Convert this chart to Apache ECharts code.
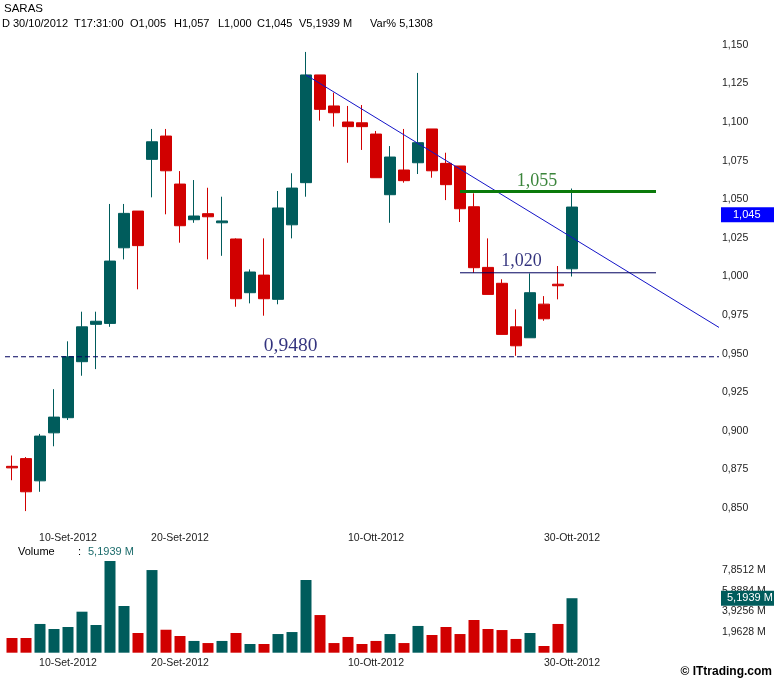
<!DOCTYPE html>
<html><head><meta charset="utf-8">
<script src="https://cdn.jsdelivr.net/npm/echarts@6/dist/echarts.min.js"></script>
<style>html,body{margin:0;padding:0;background:#fff}#c{width:774px;height:681px}</style>
</head><body><div id="c"></div>
<script>
// ---- data ----
const symbolName = 'SARAS';
const lastDate = '30/10/2012';
const lastTime = '17:31:00';
const dates = ['04-Set-2012','05-Set-2012','06-Set-2012','07-Set-2012','10-Set-2012','11-Set-2012','12-Set-2012','13-Set-2012','14-Set-2012',
  '17-Set-2012','18-Set-2012','19-Set-2012','20-Set-2012','21-Set-2012','24-Set-2012','25-Set-2012','26-Set-2012','27-Set-2012','28-Set-2012',
  '01-Ott-2012','02-Ott-2012','03-Ott-2012','04-Ott-2012','05-Ott-2012','08-Ott-2012','09-Ott-2012','10-Ott-2012','11-Ott-2012','12-Ott-2012',
  '15-Ott-2012','16-Ott-2012','17-Ott-2012','18-Ott-2012','19-Ott-2012','22-Ott-2012','23-Ott-2012','24-Ott-2012','25-Ott-2012','26-Ott-2012',
  '29-Ott-2012','30-Ott-2012'];
const opens  = [0.877,0.882,0.8676,0.8987,0.9085,0.9448,0.969,0.9696,1.0186,1.0424,1.0759,1.091,1.0599,1.0368,1.0407,1.0348,1.0243,0.9895,1.0009,0.9852,1.0335,1.0608,1.1306,1.1105,1.1001,1.0996,1.0923,1.053,1.069,1.0737,1.0956,1.0733,1.0716,1.0452,1.0059,0.9956,0.9674,0.9603,0.9821,0.995,1.005];
const closes = [0.876,0.8605,0.8966,0.9089,0.948,0.9674,0.971,1.010,1.0409,1.020,1.0873,1.0685,1.0329,1.0392,1.0387,1.036,0.9856,1.0029,0.9856,1.0444,1.0573,1.1306,1.1083,1.1061,1.0971,1.0971,1.064,1.0774,1.0621,1.0867,1.0685,1.0595,1.0439,1.0057,0.9884,0.9625,0.9551,0.9895,0.9726,0.994,1.045];
const lows   = [0.868,0.848,0.8605,0.890,0.907,0.9357,0.940,0.9674,1.0111,0.9917,1.0513,1.0403,1.0219,1.0348,1.0111,1.0134,0.9804,0.9826,0.9746,0.982,1.0247,1.0517,1.101,1.0971,1.0737,1.082,1.064,1.0348,1.0608,1.0664,1.064,1.0495,1.0353,1.0024,0.9884,0.9625,0.9486,0.9603,0.9713,0.9852,1.000];
const highs  = [0.884,0.883,0.898,0.927,0.958,0.9772,0.9772,1.047,1.047,1.0424,1.0956,1.0956,1.0683,1.0625,1.0575,1.0517,1.0247,1.0046,1.0247,1.0554,1.0669,1.1455,1.1306,1.1191,1.1105,1.1111,1.0943,1.0845,1.0956,1.1319,1.0956,1.0802,1.0716,1.0539,1.0247,0.9982,0.9787,1.002,0.9873,1.0068,1.057];
const volumes = [1.40,1.40,2.74,2.26,2.45,3.91,2.64,8.74,4.45,1.88,7.88,2.19,1.59,1.12,0.92,1.12,1.88,0.83,0.83,1.78,1.97,6.93,3.59,0.92,1.50,0.83,1.12,1.78,0.92,2.55,1.69,2.45,1.78,3.12,2.26,2.16,1.31,1.88,0.64,2.74,5.1939];
const dateTickLabels = ['10-Set-2012','20-Set-2012','10-Ott-2012','30-Ott-2012'];
const emptySlots = 10;
// price axis
const priceMin = 0.85, priceMax = 1.15, priceStep = 0.025;
// volume axis (millions)
const volMin = 0, volMax = 8.8, volStep = 1.9628;
// drawn studies (x = bar index, y = price)
const trendX = [21, 50.5];
const trendY = [1.1306, 0.967];
const supportLevel = 0.948;
const resistX = [32, 46], resistLevel = 1.055;
const baseX = [32, 46], baseLevel = 1.0024;
const noteText = ['1,055', '1,020', '0,9480'];
const noteX = [37.5, 36.4, 19.9];
const noteY = [1.0619, 1.0096, 0.9552];

// ---- helpers ----
const TEAL = '#005C5C', RED = '#D10000';
const fmt = (v, d) => v.toFixed(d).replace('.', ',');
const n = dates.length;
const cats = dates.concat(Array.from({length: emptySlots}, (_, i) => ' ' + i));
const candles = opens.map((o, i) => [o, closes[i], lows[i], highs[i]]);
const volItems = volumes.map((v, i) => ({value: v, itemStyle: {color: closes[i] >= opens[i] ? TEAL : RED}}));
const lastO = opens[n-1], lastC = closes[n-1], lastH = highs[n-1], lastL = lows[n-1], lastV = volumes[n-1];
const varPct = (lastC / closes[n-2] - 1) * 100;
const FONT = 'Liberation Sans, Arial, sans-serif';
const noteColors = ['#0A660A', '#00005E', '#00005E'];
const noteSizes = [18, 18, 19.5];

const chart = echarts.init(document.getElementById('c'), null, {renderer: 'canvas'});
const xLabel = (margin) => ({
  show: true, margin: margin, fontSize: 10.5, fontFamily: FONT, color: '#222',
  interval: (i, v) => dateTickLabels.indexOf(v) >= 0
});
const headSeg = [
  ['D ' + lastDate, 2], ['T' + lastTime, 74], ['O' + fmt(lastO, 3), 130], ['H' + fmt(lastH, 3), 174],
  ['L' + fmt(lastL, 3), 218], ['C' + fmt(lastC, 3), 257], ['V' + fmt(lastV, 4) + ' M', 299], ['Var% ' + fmt(varPct, 4), 370]
];
const graphics = [
  {type: 'text', x: 4, y: 9, style: {text: symbolName, font: '11.5px ' + FONT, fill: '#000', verticalAlign: 'middle'}},
  ...headSeg.map(s => ({type: 'text', x: s[1], y: 24, style: {text: s[0], font: '11px ' + FONT, fill: '#000', verticalAlign: 'middle'}})),
  {type: 'text', x: 18, y: 552, style: {text: 'Volume', font: '11px ' + FONT, fill: '#000', verticalAlign: 'middle'}},
  {type: 'text', x: 78, y: 552, style: {text: ':', font: '11px ' + FONT, fill: '#000', verticalAlign: 'middle'}},
  {type: 'text', x: 88, y: 552, style: {text: fmt(lastV, 4) + ' M', font: '11px ' + FONT, fill: '#1B6B6B', verticalAlign: 'middle'}},
  {type: 'text', x: 772, y: 672, style: {text: '© ITtrading.com', font: 'bold 12px ' + FONT, fill: '#000', align: 'right', verticalAlign: 'middle'}}
];

chart.setOption({
  animation: false,
  backgroundColor: '#fff',
  graphic: graphics,
  grid: [
    {left: 5, right: 55, top: 45, height: 463},
    {left: 5, right: 55, top: 560.4, height: 92.3}
  ],
  xAxis: [
    {type: 'category', gridIndex: 0, data: cats, boundaryGap: true, axisLine: {show: false}, axisTick: {show: false}, splitLine: {show: false}, axisLabel: xLabel(25)},
    {type: 'category', gridIndex: 1, data: cats, boundaryGap: true, axisLine: {show: false}, axisTick: {show: false}, splitLine: {show: false}, axisLabel: xLabel(5)},
    {type: 'value', gridIndex: 0, min: -0.5, max: cats.length - 0.5, show: false}
  ],
  yAxis: [
    {type: 'value', gridIndex: 0, position: 'right', min: priceMin, max: priceMax, interval: priceStep, scale: true,
     axisLine: {show: false}, axisTick: {show: false}, splitLine: {show: false},
     axisLabel: {margin: 3, fontSize: 10.5, fontFamily: FONT, color: '#222', formatter: v => fmt(v, 3)}},
    {type: 'value', gridIndex: 1, position: 'right', min: volMin, max: volMax, interval: volStep,
     axisLine: {show: false}, axisTick: {show: false}, splitLine: {show: false},
     axisLabel: {margin: 3, fontSize: 10.5, fontFamily: FONT, color: '#222', showMinLabel: false, showMaxLabel: false, formatter: v => fmt(v, 4) + ' M'}}
  ],
  series: [
    {type: 'candlestick', xAxisIndex: 0, yAxisIndex: 0, data: candles, barWidth: 11, clip: false,
     itemStyle: {color: TEAL, color0: RED, borderColor: TEAL, borderColor0: RED, borderWidth: 1},
     markLine: {silent: true, symbol: ['none', 'none'], animation: false,
       lineStyle: {color: 'rgba(0,0,0,0)', width: 0},
       label: {show: true, position: 'end', distance: 2, formatter: fmt(lastC, 3), color: '#fff', backgroundColor: '#0000FF',
               padding: [2, 15, 1, 12], fontSize: 11, fontFamily: FONT, lineHeight: 12},
       data: [{yAxis: lastC}]}},
    {type: 'bar', xAxisIndex: 1, yAxisIndex: 1, data: volItems, barWidth: 11,
     markLine: {silent: true, symbol: ['none', 'none'], animation: false,
       lineStyle: {color: 'rgba(0,0,0,0)', width: 0},
       label: {show: true, position: 'end', distance: 2, formatter: fmt(lastV, 4) + ' M', color: '#fff', backgroundColor: TEAL,
               padding: [2, 2, 1, 6], fontSize: 11, fontFamily: FONT, lineHeight: 12},
       data: [{yAxis: lastV}]}},
    {type: 'line', xAxisIndex: 2, yAxisIndex: 0, data: trendX.map((x, i) => [x, trendY[i]]), symbol: 'none',
     lineStyle: {color: '#1414C8', width: 1}, z: 3},
    {type: 'line', xAxisIndex: 2, yAxisIndex: 0, data: [[-0.5, supportLevel], [cats.length - 0.5, supportLevel]], symbol: 'none',
     lineStyle: {color: '#00005E', width: 1, type: [5, 3]}, z: 3},
    {type: 'line', xAxisIndex: 2, yAxisIndex: 0, data: resistX.map(x => [x, resistLevel]), symbol: 'none',
     lineStyle: {color: '#0B7A0B', width: 3}, z: 3},
    {type: 'line', xAxisIndex: 2, yAxisIndex: 0, data: baseX.map(x => [x, baseLevel]), symbol: 'none',
     lineStyle: {color: '#00005E', width: 1}, z: 3},
    {type: 'scatter', xAxisIndex: 2, yAxisIndex: 0, symbolSize: 0, z: 4,
     data: noteText.map((t, i) => ({value: [noteX[i], noteY[i]],
       label: {show: true, position: 'inside', formatter: t, color: noteColors[i], fontSize: noteSizes[i],
               fontFamily: 'Liberation Serif, Times New Roman, serif'}}))}
  ]
});
</script></body></html>
